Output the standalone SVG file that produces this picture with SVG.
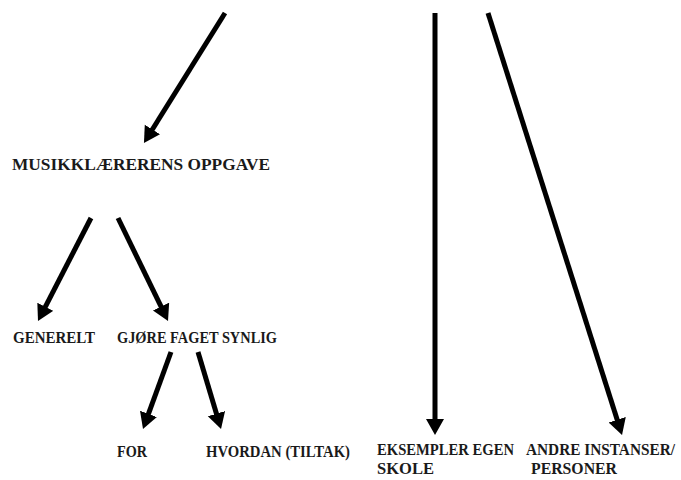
<svg xmlns="http://www.w3.org/2000/svg" width="681" height="480" viewBox="0 0 681 480">
<style>
.t{font-family:"Liberation Serif","Times New Roman",serif;font-weight:bold;font-size:17px;fill:#1a1a1a}
.c line{stroke:#000;stroke-width:5;marker-end:url(#ah)}
</style>
<defs>
<marker id="ah" markerUnits="userSpaceOnUse" markerWidth="20" markerHeight="20" refX="4" refY="9" orient="auto">
<path d="M0,0 L16,9 L0,18 Z" fill="#000"/>
</marker>
</defs>
<rect width="681" height="480" fill="#fff"/>
<g id="connectors" class="c">
<line x1="225" y1="13" x2="150.3" y2="132.8"/>
<line x1="435" y1="13" x2="435" y2="423"/>
<line x1="488" y1="13" x2="618.4" y2="423.6"/>
<line x1="91" y1="218" x2="43.5" y2="310.3"/>
<line x1="118" y1="218" x2="162.8" y2="310.2"/>
<line x1="171" y1="352" x2="147.1" y2="417.7"/>
<line x1="198" y1="352" x2="217.6" y2="417.5"/>
</g>
<g id="musikklaererens"><text class="t" x="12" y="170" textLength="258" lengthAdjust="spacingAndGlyphs">MUSIKKLÆRERENS OPPGAVE</text></g>
<g id="generelt"><text class="t" x="13" y="343" textLength="82" lengthAdjust="spacingAndGlyphs">GENERELT</text></g>
<g id="gjore"><text class="t" x="117" y="343" textLength="160" lengthAdjust="spacingAndGlyphs">GJØRE FAGET SYNLIG</text></g>
<g id="for"><text class="t" x="117" y="457" textLength="30" lengthAdjust="spacingAndGlyphs">FOR</text></g>
<g id="hvordan"><text class="t" x="206" y="457" textLength="144" lengthAdjust="spacingAndGlyphs">HVORDAN (TILTAK)</text></g>
<g id="eksempler"><text class="t" x="377" y="455" textLength="137" lengthAdjust="spacingAndGlyphs">EKSEMPLER EGEN</text><text class="t" x="377" y="474" textLength="57" lengthAdjust="spacingAndGlyphs">SKOLE</text></g>
<g id="andre"><text class="t" x="526" y="455" textLength="149" lengthAdjust="spacingAndGlyphs">ANDRE INSTANSER/</text><text class="t" x="531" y="474" textLength="86" lengthAdjust="spacingAndGlyphs">PERSONER</text></g>
</svg>
